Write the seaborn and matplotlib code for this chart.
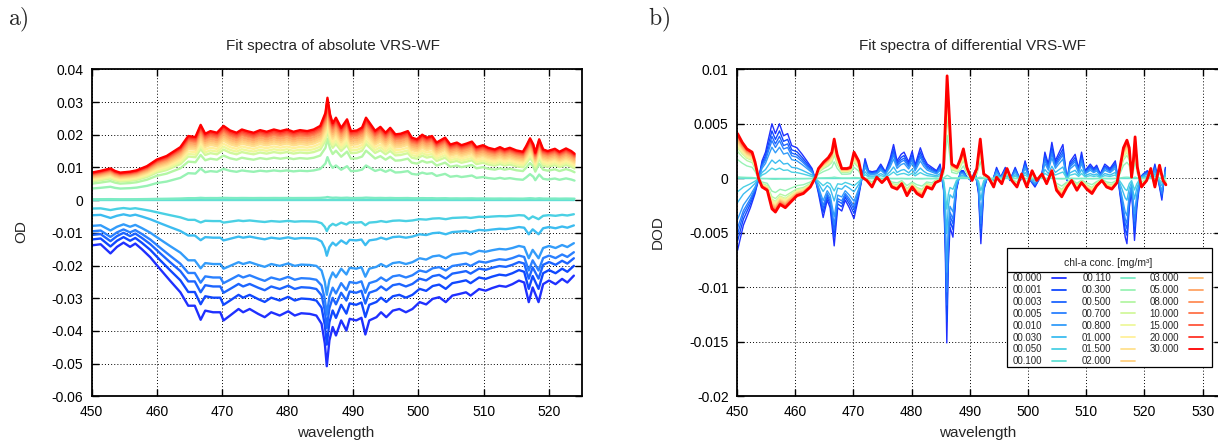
import numpy as np
import pandas as pd
import matplotlib
matplotlib.use("Agg")
import matplotlib.pyplot as plt
import seaborn as sns
from matplotlib.lines import Line2D
from matplotlib.patches import Rectangle
from matplotlib.ticker import FixedLocator, FixedFormatter

# ---------------- data ----------------
CONC_LABELS = ["00.000", "00.001", "00.003", "00.005", "00.010", "00.030", "00.050", "00.100",
               "00.110", "00.300", "00.500", "00.700", "00.800", "01.000", "01.500", "02.000",
               "03.000", "05.000", "08.000", "10.000", "15.000", "20.000", "30.000"]
COLORS = ["#1f30ff", "#1048ff", "#1c64ff", "#2a80ff", "#339cfa", "#3cbcf0", "#4ad0e4", "#62e0d4",
          "#7cecc4", "#98f2b4", "#b4f6a4", "#d2f89c", "#eef89c", "#fff09a", "#ffe08e", "#ffd080",
          "#ffbc72", "#ffa464", "#ff8c56", "#ff7248", "#ff553a", "#ff3326", "#ff0000"]

# amplitude of each series relative to the blue (negative) or red (positive) spectrum
AMP_NEG = [1.0, 0.87, 0.77, 0.69, 0.57, 0.335, 0.187, 0.0]
AMP_POS = [0.03, 0.42, 0.60, 0.68, 0.72, 0.76, 0.80, 0.83, 0.86, 0.89, 0.92, 0.94, 0.96, 0.98, 1.0]

# panel a: absolute fit spectrum, 30 mg/m3 (red, top)
A_POS_WL = [450.0, 451.3, 452.9, 453.6, 454.4, 455.9, 456.9, 458.5, 460.0, 461.5, 463.6, 464.8,
            465.9, 466.7, 467.4, 468.2, 469.2, 470.2, 471.2, 472.2, 473.0, 473.8, 474.8, 475.8,
            476.8, 477.9, 478.9, 479.9, 480.9, 481.9, 483.0, 484.0, 485.0, 485.8, 486.1, 486.5,
            486.9, 487.4, 488.2, 489.1, 489.7, 490.6, 491.4, 492.0, 492.7, 493.4, 494.2, 495.0,
            495.7, 496.5, 497.3, 498.4, 499.0, 499.8, 500.6, 501.3, 502.1, 502.8, 504.1, 504.9,
            505.9, 506.6, 507.4, 508.2, 508.9, 509.9, 510.7, 511.7, 512.5, 513.2, 514.0, 515.0,
            516.0, 516.5, 517.1, 517.6, 517.9, 518.5, 519.1, 519.8, 520.9, 521.6, 522.6, 523.4, 523.9]
A_POS_OD = [0.0084, 0.0089, 0.0097, 0.0089, 0.0084, 0.0087, 0.0091, 0.0104, 0.0124, 0.0135, 0.0162, 0.0196,
            0.0193, 0.0230, 0.0203, 0.0211, 0.0206, 0.0227, 0.0213, 0.0206, 0.0216, 0.0211, 0.0206, 0.0214,
            0.0209, 0.0216, 0.0211, 0.0216, 0.0209, 0.0214, 0.0211, 0.0216, 0.0227, 0.0267, 0.0313, 0.0262,
            0.0235, 0.0252, 0.0221, 0.0247, 0.0211, 0.0213, 0.0222, 0.0252, 0.0232, 0.0212, 0.0224, 0.0206,
            0.0221, 0.0201, 0.0203, 0.0211, 0.0191, 0.0186, 0.0200, 0.0191, 0.0196, 0.0176, 0.0191, 0.0170,
            0.0176, 0.0168, 0.0173, 0.0179, 0.0162, 0.0168, 0.0160, 0.0155, 0.0162, 0.0155, 0.0160, 0.0152,
            0.0148, 0.0165, 0.0189, 0.0170, 0.0145, 0.0186, 0.0155, 0.0150, 0.0157, 0.0148, 0.0158, 0.0150, 0.0142]

# panel a: absolute fit spectrum, 0 mg/m3 (blue, bottom)
A_NEG_WL = [450.2, 451.4, 452.9, 453.9, 454.9, 455.9, 456.7, 457.7, 459.0, 460.5, 462.0, 463.6,
            464.8, 465.8, 466.7, 467.4, 468.6, 469.7, 470.2, 471.2, 472.5, 473.2, 474.2, 475.5,
            476.5, 477.5, 478.8, 480.1, 481.1, 482.1, 483.4, 484.4, 485.2, 485.7, 486.0, 486.4,
            486.9, 487.4, 488.2, 489.0, 489.5, 490.5, 491.3, 491.9, 492.5, 493.6, 494.3, 495.1,
            496.1, 497.1, 498.1, 499.1, 500.2, 501.2, 502.2, 503.2, 504.2, 505.2, 506.3, 507.3,
            508.0, 509.3, 510.3, 511.3, 512.4, 513.4, 514.4, 515.4, 516.2, 516.9, 517.5, 518.4,
            519.1, 520.0, 521.0, 522.0, 522.8, 523.8]
A_NEG_OD = [-0.0138, -0.0135, -0.0163, -0.0143, -0.0130, -0.0143, -0.0133, -0.0150, -0.0175, -0.0211, -0.0246, -0.0282,
            -0.0323, -0.0323, -0.0366, -0.0338, -0.0343, -0.0343, -0.0368, -0.0353, -0.0333, -0.0343, -0.0333, -0.0348,
            -0.0358, -0.0343, -0.0353, -0.0340, -0.0353, -0.0346, -0.0348, -0.0353, -0.0378, -0.0439, -0.0508, -0.0429,
            -0.0388, -0.0414, -0.0368, -0.0399, -0.0363, -0.0368, -0.0360, -0.0411, -0.0368, -0.0358, -0.0343, -0.0358,
            -0.0338, -0.0333, -0.0343, -0.0333, -0.0312, -0.0319, -0.0302, -0.0297, -0.0312, -0.0292, -0.0287, -0.0282,
            -0.0292, -0.0272, -0.0277, -0.0269, -0.0262, -0.0265, -0.0257, -0.0246, -0.0252, -0.0312, -0.0267, -0.0312,
            -0.0257, -0.0246, -0.0257, -0.0241, -0.0252, -0.0231]

# panel b: differential fit spectrum, 30 mg/m3 (red)
B_POS_WL = [450.1, 450.9, 451.7, 452.6, 453.1, 453.7, 454.3, 455.2, 456.0, 456.6, 457.4, 458.3,
            459.2, 460.3, 461.4, 462.6, 463.5, 464.0, 464.9, 465.7, 466.3, 466.7, 467.2, 468.0,
            468.9, 469.5, 470.1, 470.9, 471.5, 472.3, 473.2, 474.0, 474.9, 475.8, 476.6, 477.5,
            478.3, 479.2, 480.1, 480.9, 481.8, 482.6, 483.5, 484.1, 484.9, 485.5, 485.9, 486.1,
            486.4, 486.9, 487.8, 488.4, 488.9, 489.5, 490.4, 491.2, 491.8, 492.4, 493.2, 494.1,
            494.6, 495.5, 496.4, 497.2, 498.1, 498.9, 499.8, 500.7, 501.5, 502.4, 503.2, 504.1,
            504.9, 505.8, 506.7, 507.5, 508.4, 509.2, 510.1, 511.0, 511.8, 512.7, 513.5, 514.4,
            515.3, 515.9, 516.4, 517.0, 517.4, 517.8, 518.1, 518.4, 518.8, 519.5, 520.4, 521.1,
            521.8, 522.6, 523.2, 523.7]
B_POS_DOD = [0.0041, 0.0033, 0.0027, 0.0024, 0.0015, 0.0000, -0.0008, -0.0011, -0.0028, -0.0031, -0.0024, -0.0027,
             -0.0022, -0.0016, -0.0014, -0.0008, 0.0001, 0.0009, 0.0015, 0.0019, 0.0024, 0.0036, 0.0022, 0.0009,
             0.0009, 0.0010, 0.0024, 0.0016, 0.0001, -0.0002, -0.0008, 0.0001, -0.0004, 0.0001, -0.0008, -0.0010,
             -0.0005, -0.0016, -0.0008, -0.0014, -0.0017, -0.0008, -0.0010, -0.0004, -0.0002, 0.0010, 0.0065, 0.0094,
             0.0065, 0.0013, 0.0010, 0.0018, 0.0027, 0.0010, -0.0002, 0.0009, 0.0036, 0.0004, 0.0001, -0.0008,
             0.0001, -0.0005, 0.0009, -0.0002, -0.0008, 0.0004, -0.0008, 0.0007, -0.0002, 0.0004, -0.0005, 0.0007,
             -0.0011, -0.0017, -0.0008, -0.0002, -0.0011, -0.0004, -0.0010, -0.0014, -0.0007, -0.0002, -0.0008, -0.0010,
             -0.0004, 0.0013, 0.0028, 0.0035, 0.0028, 0.0001, 0.0016, 0.0038, 0.0010, -0.0008, -0.0002, 0.0009,
             -0.0008, 0.0012, -0.0002, -0.0006]

# panel b: differential fit spectrum, 0 mg/m3 (blue)
B_NEG_WL = [450.1, 451.1, 452.3, 453.1, 453.7, 454.3, 454.9, 455.4, 456.0, 456.6, 457.3, 458.0,
            458.7, 459.4, 460.3, 461.2, 462.0, 462.9, 463.5, 464.0, 464.8, 465.5, 466.0, 466.7,
            467.3, 468.0, 468.6, 469.3, 470.1, 470.9, 471.5, 472.0, 472.6, 473.2, 474.0, 474.7,
            475.5, 476.3, 476.9, 477.5, 478.2, 478.7, 479.5, 480.1, 480.6, 481.5, 482.1, 482.7,
            483.5, 484.3, 484.9, 485.5, 485.8, 486.05, 486.3, 486.6, 487.1, 487.7, 488.4, 488.9,
            489.5, 490.2, 490.9, 491.5, 491.9, 492.4, 493.0, 493.8, 494.6, 495.3, 496.1, 496.9,
            497.8, 498.7, 499.5, 500.4, 501.2, 502.4, 502.9, 503.5, 504.1, 504.7, 505.2, 506.0,
            506.7, 507.2, 508.1, 508.7, 509.2, 509.8, 510.7, 511.3, 511.8, 512.4, 513.2, 514.1,
            515.0, 515.5, 516.1, 516.7, 517.0, 517.4, 517.8, 518.3, 518.7, 519.3, 519.8, 520.5,
            521.3, 521.8, 522.4, 523.0, 523.6]
B_NEG_DOD = [-0.0066, -0.0043, -0.0027, -0.0014, -0.0001, 0.0016, 0.0024, 0.0036, 0.0050, 0.0041, 0.0050, 0.0039,
             0.0041, 0.0030, 0.0028, 0.0022, 0.0016, 0.0009, -0.0002, -0.0014, -0.0036, -0.0020, -0.0027, -0.0062,
             -0.0027, -0.0030, -0.0020, -0.0027, -0.0037, -0.0017, 0.0001, 0.0018, 0.0007, 0.0006, 0.0007, 0.0013,
             0.0006, 0.0018, 0.0031, 0.0016, 0.0022, 0.0024, 0.0015, 0.0025, 0.0012, 0.0028, 0.0019, 0.0013,
             0.0010, 0.0007, 0.0013, -0.0011, -0.0070, -0.0151, -0.0080, -0.0045, -0.0054, -0.0011, 0.0007, 0.0007,
             0.0001, -0.0002, 0.0007, -0.0014, -0.0060, -0.0011, 0.0001, -0.0005, 0.0010, 0.0001, 0.0010, -0.0002,
             0.0010, -0.0002, 0.0016, -0.0002, -0.0008, 0.0004, 0.0024, 0.0013, 0.0033, 0.0016, 0.0022, 0.0031,
             -0.0002, 0.0015, 0.0022, 0.0009, 0.0024, 0.0007, 0.0013, 0.0009, 0.0012, 0.0004, 0.0013, 0.0009,
             0.0016, -0.0002, -0.0027, -0.0054, -0.0060, -0.0027, -0.0011, -0.0057, -0.0027, 0.0001, 0.0004, 0.0007,
             0.0001, 0.0013, -0.0002, -0.0020, 0.0010]

XTICKS_A = [450, 460, 470, 480, 490, 500, 510, 520]
XTICKS_B = [450, 460, 470, 480, 490, 500, 510, 520, 530]
YTICKS_A = [-0.06, -0.05, -0.04, -0.03, -0.02, -0.01, 0.0, 0.01, 0.02, 0.03, 0.04]
YLABELS_A = ["-0.06", "-0.05", "-0.04", "-0.03", "-0.02", "-0.01", "0", "0.01", "0.02", "0.03", "0.04"]
YTICKS_B = [-0.02, -0.015, -0.01, -0.005, 0.0, 0.005, 0.01]
YLABELS_B = ["-0.02", "-0.015", "-0.01", "-0.005", "0", "0.005", "0.01"]


def build(pos_wl, pos_v, neg_wl, neg_v):
    rows = []
    for i, lab in enumerate(CONC_LABELS):
        if i < len(AMP_NEG):
            wl, base, amp = neg_wl, neg_v, AMP_NEG[i]
        else:
            wl, base, amp = pos_wl, pos_v, AMP_POS[i - len(AMP_NEG)]
        for w, v in zip(wl, base):
            rows.append((w, amp * v, lab))
    return pd.DataFrame(rows, columns=["wl", "val", "conc"])


df_a = build(A_POS_WL, A_POS_OD, A_NEG_WL, A_NEG_OD)
df_b = build(B_POS_WL, B_POS_DOD, B_NEG_WL, B_NEG_DOD)

# ---------------- styling ----------------
sns.set_style("ticks")
plt.rcParams["font.family"] = ["Liberation Sans", "DejaVu Sans"]
plt.rcParams["axes.unicode_minus"] = False

W, H = 1218, 447
fig = plt.figure(figsize=(W / 100, H / 100), dpi=100)

top, bot = 69.3, 396.3
axA = fig.add_axes([91.5 / W, 1 - bot / H, (581.7 - 91.5) / W, (bot - top) / H])
axB = fig.add_axes([737.0 / W, 1 - bot / H, (1221.0 - 737.0) / W, (bot - top) / H])

sns.lineplot(data=df_a, x="wl", y="val", hue="conc", hue_order=CONC_LABELS, palette=COLORS,
             estimator=None, sort=False, legend=False, linewidth=1.7, ax=axA)
sns.lineplot(data=df_b, x="wl", y="val", hue="conc", hue_order=CONC_LABELS, palette=COLORS,
             estimator=None, sort=False, legend=False, linewidth=1.0, ax=axB)
linesB = axB.get_lines()
linesB[-1].set_linewidth(2.0)

for ax, xt, yt, yl, xlim, ylim in [
        (axA, XTICKS_A, YTICKS_A, YLABELS_A, (450, 525), (-0.06, 0.04)),
        (axB, XTICKS_B, YTICKS_B, YLABELS_B, (450, 450 + (1221.0 - 737.0) / 5.82), (-0.02, 0.01))]:
    ax.set_xlim(*xlim)
    ax.set_ylim(*ylim)
    ax.xaxis.set_major_locator(FixedLocator(xt))
    ax.yaxis.set_major_locator(FixedLocator(yt))
    ax.yaxis.set_major_formatter(FixedFormatter(yl))
    ax.xaxis.set_major_formatter(FixedFormatter([str(v) for v in xt]))
    ax.minorticks_off()
    ax.grid(True, color="black", linestyle=(0, (1, 2.2)), linewidth=0.7)
    ax.set_axisbelow(True)
    ax.tick_params(direction="in", length=5, width=1, top=True, right=True,
                   labelsize=10, pad=6, colors="black")
    for s in ax.spines.values():
        s.set_linewidth(1.3)
        s.set_color("black")
    ax.set_xlabel("")
    ax.set_ylabel("")

# axis labels and titles
fig.text(336 / W, 1 - 433 / H, "wavelength", ha="center", va="center", fontsize=11)
fig.text(978 / W, 1 - 433 / H, "wavelength", ha="center", va="center", fontsize=11)
fig.text(21 / W, 1 - 232 / H, "OD", ha="center", va="center", rotation=90, fontsize=11)
fig.text(658 / W, 1 - 232 / H, "DOD", ha="center", va="center", rotation=90, fontsize=11)
fig.text(333 / W, 1 - 46 / H, "Fit spectra of absolute VRS-WF", ha="center", va="center", fontsize=11)
fig.text(972 / W, 1 - 46 / H, "Fit spectra of differential VRS-WF", ha="center", va="center", fontsize=11)
fig.text(8 / W, 1 - 20 / H, r"$\mathrm{a)}$", math_fontfamily="cm", fontsize=17, ha="left", va="center")
fig.text(648 / W, 1 - 20 / H, r"$\mathrm{b)}$", math_fontfamily="cm", fontsize=17, ha="left", va="center")

# legend: box and separator drawn at the reference position, entries by ax.legend
LX0, LX1, LY0, LY1, LSEP = 1007, 1212, 248, 367, 271.7
axB.add_patch(Rectangle((LX0 / W, 1 - LY1 / H), (LX1 - LX0) / W, (LY1 - LY0) / H,
                        transform=fig.transFigure, facecolor="white", edgecolor="black",
                        linewidth=0.9, zorder=9, clip_on=False))
axB.add_line(Line2D([LX0 / W, LX1 / W], [1 - LSEP / H, 1 - LSEP / H], transform=fig.transFigure,
                    color="black", lw=0.9, zorder=11, clip_on=False))

handles = [Line2D([], [], color=c, lw=1.3) for c in COLORS]
leg = axB.legend(handles, CONC_LABELS, ncol=3, markerfirst=False, title="chl-a conc. [mg/m³]",
                 fontsize=7, title_fontsize=7.5, frameon=False, loc="upper left",
                 bbox_to_anchor=(1013 / W, 1 - 257 / H), bbox_transform=fig.transFigure,
                 borderaxespad=0, handlelength=1.45, handletextpad=1.0, columnspacing=1.55,
                 labelspacing=0.19, borderpad=0.0)
leg.set_zorder(10)

r = fig.canvas.get_renderer()


def cy(t):
    b = t.get_window_extent(r)
    return H - (b.y0 + b.y1) / 2


fig.canvas.draw()
try:
    tc, l0 = cy(leg.get_title()), cy(leg.get_texts()[0])
    leg._legend_box.sep = max(0.0, leg._legend_box.sep + ((278.3 - 263.0) - (l0 - tc)) * 0.72)
except Exception:
    pass
fig.canvas.draw()
tc = cy(leg.get_title())
leg.set_bbox_to_anchor((1013 / W, 1 - (257 + 263.0 - tc) / H), transform=fig.transFigure)

fig.savefig("out.png", dpi=100)
